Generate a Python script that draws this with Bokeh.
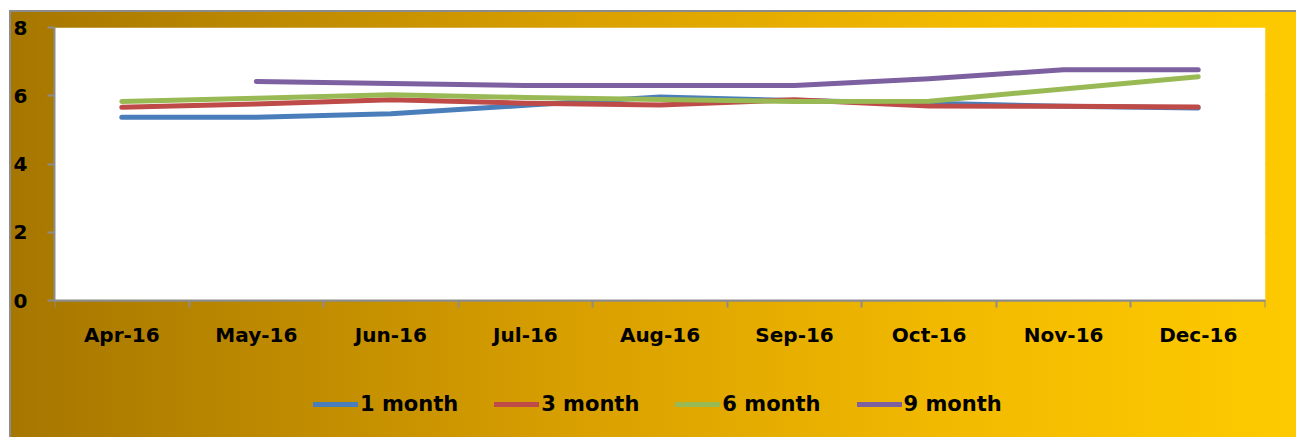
from bokeh.plotting import figure
from bokeh.models import FixedTicker, Legend, LegendItem, Range1d, BoxAnnotation
from bokeh.embed import file_html
from bokeh.resources import INLINE

months = ["Apr-16", "May-16", "Jun-16", "Jul-16", "Aug-16", "Sep-16", "Oct-16", "Nov-16", "Dec-16"]
one_month = [5.37, 5.37, 5.47, 5.72, 5.96, 5.86, 5.78, 5.69, 5.64]
three_month = [5.66, 5.76, 5.88, 5.78, 5.73, 5.88, 5.70, 5.69, 5.67]
six_month = [5.83, 5.93, 6.03, 5.95, 5.89, 5.83, 5.84, 6.20, 6.56]
nine_month = [float("nan"), 6.42, 6.36, 6.30, 6.30, 6.30, 6.50, 6.76, 6.76]
series_names = ["1 month", "3 month", "6 month", "9 month"]
y_ticks = [0, 2, 4, 6, 8]

colors = ["#4A7EBB", "#BE4B48", "#98B954", "#7D60A0"]
FONT = "DejaVu Sans"

xs = list(range(len(months)))

# layout in pixels
W, H = 1296, 437
F_LEFT, F_TOP, F_RIGHT, AXIS_Y = 54, 27, 1265, 300
y_lo = -(H - AXIS_Y) * (y_ticks[-1] - y_ticks[0]) / (AXIS_Y - F_TOP)

bg = ("linear-gradient(#ffffff,#ffffff) 0 0/100% 10px no-repeat, "
      "linear-gradient(#ffffff,#ffffff) 0 0/9px 100% no-repeat, "
      "linear-gradient(#8c8c8c,#8c8c8c) 9px 10px/100% 2px no-repeat, "
      "linear-gradient(#8c8c8c,#8c8c8c) 9px 10px/2px 100% no-repeat, "
      "linear-gradient(to right, #a57600 0%, #d9a000 45%, #f3bb00 75%, #fdca00 100%)")

p = figure(width=W, height=H, output_backend="svg", toolbar_location=None,
           x_range=Range1d(-0.5, len(months) - 0.5), y_range=Range1d(y_lo, y_ticks[-1]),
           min_border_left=F_LEFT, min_border_right=W - F_RIGHT, min_border_top=F_TOP,
           min_border_bottom=0,
           background_fill_alpha=0, border_fill_alpha=0, outline_line_color=None)
p.styles = {"background": bg}

# white plot area
p.add_layout(BoxAnnotation(bottom=y_ticks[0], top=y_ticks[-1], fill_color="white",
                           fill_alpha=1, line_color=None, level="underlay"))

# axes
p.xaxis.fixed_location = 0
p.xaxis.ticker = FixedTicker(ticks=xs, minor_ticks=[i - 0.5 for i in range(len(months) + 1)])
p.xaxis.major_label_overrides = {i: m for i, m in enumerate(months)}
p.xaxis.major_tick_out = 0
p.xaxis.major_tick_in = 0
p.xaxis.minor_tick_out = 7
p.xaxis.minor_tick_in = 0
p.xaxis.minor_tick_line_color = "#8c8c8c"
p.xaxis.minor_tick_line_width = 2
p.xaxis.major_label_standoff = 15

p.yaxis.ticker = FixedTicker(ticks=y_ticks)
p.yaxis.bounds = (y_ticks[0], y_ticks[-1])
p.yaxis.major_tick_out = 7
p.yaxis.major_tick_in = 0
p.yaxis.minor_tick_line_color = None
p.yaxis.major_tick_line_color = "#8c8c8c"
p.yaxis.major_tick_line_width = 2
p.yaxis.major_label_standoff = 20

for ax in (p.xaxis, p.yaxis):
    ax.axis_line_color = "#8c8c8c"
    ax.axis_line_width = 2
    ax.major_label_text_font = FONT
    ax.major_label_text_font_style = "bold"
    ax.major_label_text_font_size = "20px"
    ax.major_label_text_color = "black"

p.xgrid.grid_line_color = None
p.ygrid.ticker = FixedTicker(ticks=y_ticks)
p.ygrid.grid_line_color = "#8c8c8c"
p.ygrid.grid_line_width = 2

items = []
for name, ys, c in zip(series_names, [one_month, three_month, six_month, nine_month], colors):
    r = p.line(xs, ys, line_color=c, line_width=5, line_cap="round", line_join="round")
    items.append(LegendItem(label=name, renderers=[r]))

legend = Legend(items=items, orientation="horizontal", location=(259, 20),
                background_fill_alpha=0, border_line_color=None,
                label_text_font=FONT, label_text_font_style="bold", label_text_font_size="21px",
                label_text_color="black", glyph_width=45, glyph_height=26, label_standoff=2,
                spacing=36, padding=0, margin=0, label_height=26)
p.add_layout(legend, "center")

open("out.html", "w").write(file_html(p, INLINE))
